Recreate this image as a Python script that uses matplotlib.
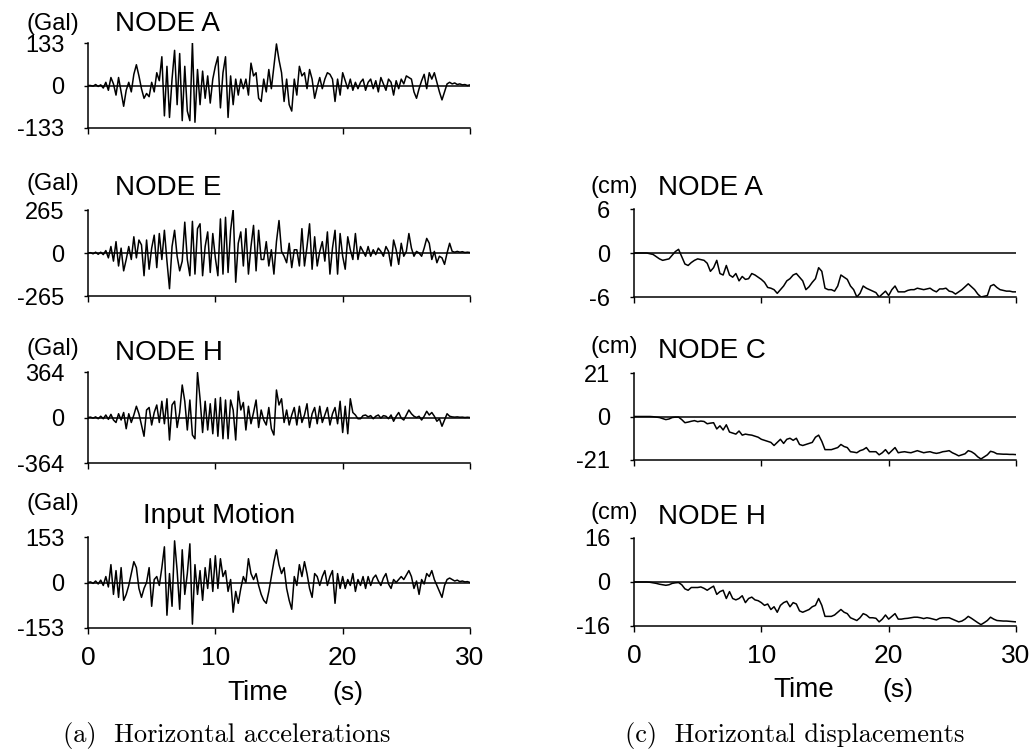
"""Seismic response time histories: horizontal accelerations and displacements."""

import matplotlib
matplotlib.use("Agg")
import matplotlib.pyplot as plt
import numpy as np

# ---- data ----
# accelerations (Gal), sampled every 0.2 s from 0 to 30 s
acc_node_a = [0, 0, -2, 3, -3, 2,
              -8, 10, -15, 25, 5, -30, 25, -20, -65, -15,
              10, -20, 35, 65, 30, -10, -40, -25, -35, 10,
              -20, 40, 15, 90, -95, 60, -100, 20, 110, -60,
              100, -110, 60, -80, -110, 135, -115, 50, -60, 45,
              -40, 30, -55, 20, 60, 90, -70, 40, 90, -100,
              30, -60, 20, -30, 20, -10, 20, -30, 70, 30,
              40, -40, -50, 20, -20, 50, -10, 60, 130, 80,
              40, -50, 20, -60, -80, 20, -30, 60, 30, 40,
              -10, 50, 20, -40, -5, 25, -10, 20, 40, 35,
              20, -50, 20, -30, 40, 15, -10, 20, -15, 10,
              -10, 10, 20, -15, 10, 20, -10, 15, -20, 25,
              5, -15, 20, 10, -30, 15, -10, 20, 5, 30,
              25, 20, -20, -40, -10, 15, 35, -10, 40, 20,
              40, 10, -20, -45, -20, 5, 10, 5, 8, 3,
              5, 2, 3, 0, 2]

acc_node_e = [0, 2, -5, 5, -8, 5,
              -10, 15, -30, 40, -50, 70, -80, 30, -110, -40,
              40, -40, 100, -30, 80, 50, -140, 80, -100, 30,
              110, -90, 120, -40, 140, -50, -220, 40, 140, -20,
              -110, -50, 190, -40, -140, 195, -130, 150, 180, -140,
              40, 130, -120, 120, -30, -140, 210, -130, 220, -120,
              140, 270, -180, 60, 130, -80, 150, -130, 40, 170,
              -110, 140, -40, -40, 70, -80, 20, -130, 70, 200,
              10, -20, -60, 60, -90, 20, 20, -80, 150, -80,
              40, 180, -100, 100, -80, 10, 70, -50, 130, -130,
              30, 140, -130, 120, -20, -100, 100, 20, -40, 120,
              -40, 40, 10, -20, 40, -20, 20, -10, 30, 10,
              -20, 40, 10, -80, 80, 20, -70, 60, -20, 10,
              120, 30, -20, 10, 0, -20, 30, 90, 60, -40,
              10, -60, -20, -30, -70, 0, 60, 10, 5, 10,
              5, 8, 3, 5, 3]

acc_node_h = [0, 3, -5, 5, -10, 10,
              -10, 20, -15, 25, -20, -40, 30, -20, 40, -90,
              30, -40, 20, 90, 30, -60, -150, 60, 80, -60,
              40, 100, -40, 130, -50, 150, -180, 100, 130, -80,
              40, 260, 130, -100, 140, -140, -170, 360, 150, -120,
              130, -100, 110, -130, 150, -150, 160, -170, 140, -170,
              140, 60, -180, 210, 60, 120, -100, 90, -50, 40,
              140, -80, 60, -20, -60, 80, -90, -140, 220, 100,
              150, -40, 60, -60, 20, 80, -60, 90, -40, 20,
              110, -80, 30, 80, -50, 90, -40, 20, 80, -60,
              30, 80, -50, 130, -120, 90, -130, 150, 40, 20,
              -10, -10, 15, 20, 5, 15, -10, 10, 20, -5,
              15, 10, -10, 20, -30, 10, 40, -5, -20, 20,
              60, 30, 10, 0, 10, -20, 10, 50, 20, 40,
              10, -30, -10, -70, -20, 30, 10, 5, 3, 5,
              2, 3, 0, 2, 0]

acc_input = [0, 2, -3, 5, -5, 8,
             -10, 20, -15, 60, -40, 40, -50, 50, -60, -40,
             -10, 30, 70, 50, -20, -50, -20, 0, 50, -80,
             10, 20, -10, 50, 120, -110, 30, -80, 140, 40,
             -90, 110, -40, 30, 130, -140, 60, -40, 40, -60,
             50, -20, 80, -30, 90, -20, 80, 20, 40, -30,
             10, -100, -30, -70, -20, 20, 0, 80, 30, 10,
             30, -10, -40, -60, -70, -30, 20, 70, 110, 60,
             30, 50, -20, -60, -90, 20, -10, 60, 20, 70,
             30, -20, -50, 30, 20, -10, 20, 40, -10, 20,
             40, -70, 30, -20, 20, -20, 10, -10, 30, -30,
             10, -10, 20, -20, 20, -10, 15, 25, 5, -10,
             15, 30, -5, -20, 10, 0, 10, 20, 10, 25,
             40, 20, -20, 5, -40, 10, -5, 30, 20, 40,
             10, -10, -30, -50, -10, 10, 15, 10, 5, 8,
             3, 5, 2, 3, 0]

# displacements (cm), sampled every 0.25 s from 0 to 30 s
disp_node_a = [0, 0, 0, 0, 0, -0.1, -0.2, -0.5, -0.8, -1.0, -0.9, -0.8,
               -0.3, 0.2, 0.5, -0.5, -1.5, -1.7, -1.3, -1.0, -0.8, -0.9, -1.0, -1.4,
               -2.5, -2.0, -1.0, -2.8, -3.0, -1.7, -3.0, -3.3, -2.8, -3.8, -3.2, -3.6,
               -3.5, -2.8, -3.0, -3.3, -3.6, -4.0, -4.7, -4.8, -5.0, -5.5, -5.0, -4.5,
               -3.8, -3.5, -3.0, -2.8, -3.3, -3.8, -5.0, -4.6, -4.0, -3.5, -2.0, -2.5,
               -4.8, -5.0, -5.0, -5.2, -4.5, -3.0, -3.3, -3.6, -4.5, -5.0, -6.0, -5.5,
               -4.5, -4.8, -5.0, -5.2, -5.4, -6.0, -5.6, -5.2, -5.8, -5.0, -4.5, -5.3,
               -5.3, -5.3, -5.1, -5.0, -5.0, -4.8, -4.9, -5.0, -4.9, -4.8, -5.1, -5.3,
               -4.9, -4.9, -4.8, -5.2, -5.3, -5.6, -5.3, -5.0, -4.6, -4.2, -4.6, -5.0,
               -5.6, -6.0, -5.9, -5.8, -4.5, -4.3, -4.7, -5.0, -5.1, -5.2, -5.2, -5.3,
               -5.3]

disp_node_c = [0, 0, 0, 0, 0, 0, -0.1, -0.3, -0.5, -1.0, -1.5, -1.2,
               -0.5, -0.3, -0.3, -1.5, -3.0, -2.7, -2.3, -2.0, -2.5, -2.2, -2.4, -3.5,
               -3.2, -3.0, -6.0, -4.5, -6.5, -4.0, -7.5, -8.0, -8.5, -7.0, -9.0, -8.5,
               -8.8, -9.0, -9.5, -10.0, -11.0, -11.5, -12.0, -12.5, -14.0, -12.5, -11.0, -13.0,
               -11.0, -10.5, -11.5, -10.5, -13.5, -14.0, -13.5, -13.0, -12.5, -10.0, -9.0, -12.0,
               -16.0, -16.0, -16.0, -15.5, -15.0, -13.5, -14.5, -15.0, -17.0, -17.2, -17.5, -16.5,
               -16.0, -15.0, -17.0, -17.0, -17.0, -18.5, -17.5, -16.0, -18.0, -16.5, -15.0, -17.5,
               -17.2, -17.0, -17.3, -17.5, -17.0, -16.5, -17.0, -17.5, -17.2, -17.0, -17.5, -17.8,
               -17.5, -17.0, -16.8, -16.5, -17.5, -18.2, -19.0, -18.5, -18.0, -16.5, -17.0, -18.0,
               -19.5, -20.5, -19.5, -18.5, -16.8, -17.2, -18.0, -18.1, -18.2, -18.2, -18.3, -18.3,
               -18.4]

disp_node_h = [0, 0, 0, 0, 0, -0.1, -0.3, -0.5, -0.8, -1.0, -1.2, -1.0,
               -0.5, -0.3, -0.2, -1.0, -2.5, -3.0, -2.0, -2.0, -2.0, -1.8, -2.3, -3.0,
               -2.2, -1.5, -4.5, -3.5, -3.0, -6.0, -3.5, -6.0, -6.5, -6.0, -5.0, -7.5,
               -6.0, -5.5, -6.5, -6.8, -7.5, -8.5, -8.0, -10.0, -9.0, -11.0, -8.5, -7.5,
               -7.0, -9.0, -7.5, -8.0, -10.5, -11.0, -10.5, -10.0, -9.0, -8.5, -6.0, -8.5,
               -12.5, -12.5, -12.5, -12.0, -11.0, -10.0, -11.0, -11.5, -13.0, -13.5, -14.0, -13.0,
               -11.5, -12.0, -13.0, -13.0, -13.2, -14.5, -13.5, -12.0, -13.5, -12.5, -11.5, -13.5,
               -13.5, -13.3, -13.2, -13.0, -12.8, -12.8, -13.0, -13.3, -13.0, -13.2, -13.5, -13.8,
               -13.2, -13.0, -13.0, -13.0, -13.5, -14.0, -14.5, -14.2, -13.5, -12.5, -13.2, -14.0,
               -14.8, -15.5, -14.8, -14.0, -12.8, -13.5, -14.0, -14.1, -14.2, -14.2, -14.3, -14.4,
               -14.5]

acc_panels = [("NODE A", acc_node_a, 133), ("NODE E", acc_node_e, 265),
              ("NODE H", acc_node_h, 364), ("Input Motion", acc_input, 153)]
disp_panels = [("NODE A", disp_node_a, 6), ("NODE C", disp_node_c, 21),
               ("NODE H", disp_node_h, 16)]

# ---- layout (pixel boxes measured on the 1030x755 original) ----
W, H = 1030, 755
SANS = "Liberation Sans"
SERIF = "cmr10"

acc_boxes = [(43, 128), (210, 296), (372, 463), (537, 628)]
acc_title = [(30, 31), (190, 195), (355, 360), (510, 523)]   # unit baseline, title baseline
disp_boxes = [(209, 297), (373, 460), (538, 626)]
disp_title = [(193, 195), (353, 358), (519, 524)]

fig = plt.figure(figsize=(W / 100, H / 100), dpi=100)


def make_axes(x0, x1, y0, y1):
    return fig.add_axes([x0 / W, 1 - y1 / H, (x1 - x0) / W, (y1 - y0) / H])


def ftext(x, y, s, **kw):
    fig.text(x / W, 1 - y / H, s, **kw)


def draw_trace(ax, values, lim, last):
    t = np.linspace(0, 30, len(values))
    ax.axhline(0, color="black", lw=1.1, zorder=1)
    ax.plot(t, values, color="black", lw=1.1, zorder=2)
    ax.set_xlim(0, 30)
    ax.set_ylim(-lim, lim)
    for side in ("top", "right"):
        ax.spines[side].set_visible(False)
    for side in ("left", "bottom"):
        ax.spines[side].set_linewidth(1.1)
    ax.set_yticks([-lim, 0, lim])
    ax.set_yticklabels([f"-{lim}", "0", f"{lim}"], fontfamily=SANS, fontsize=17)
    ax.set_xticks([0, 10, 20, 30])
    ax.tick_params(axis="y", direction="out", length=3, width=1, pad=14)
    ax.tick_params(axis="x", direction="out", length=4, width=1, pad=9)
    if last:
        ax.set_xticklabels(["0", "10", "20", "30"], fontfamily=SANS, fontsize=19)
    else:
        ax.set_xticklabels([])
    ax.patch.set_alpha(0)


# (a) accelerations
for i, (name, vals, lim) in enumerate(acc_panels):
    y0, y1 = acc_boxes[i]
    ax = make_axes(88, 470, y0, y1)
    draw_trace(ax, vals, lim, i == len(acc_panels) - 1)
    ub, tb = acc_title[i]
    ftext(53, ub, "(Gal)", ha="center", va="baseline", fontfamily=SANS, fontsize=17)
    tx = 143 if name == "Input Motion" else 115
    ftext(tx, tb, name, ha="left", va="baseline", fontfamily=SANS, fontsize=20)

# (c) displacements
for i, (name, vals, lim) in enumerate(disp_panels):
    y0, y1 = disp_boxes[i]
    ax = make_axes(634, 1016, y0, y1)
    draw_trace(ax, vals, lim, i == len(disp_panels) - 1)
    ub, tb = disp_title[i]
    ftext(614, ub, "(cm)", ha="center", va="baseline", fontfamily=SANS, fontsize=17)
    ftext(658, tb, name, ha="left", va="baseline", fontfamily=SANS, fontsize=20)

# axis titles and captions
ftext(227, 700, "Time", ha="left", va="baseline", fontfamily=SANS, fontsize=20)
ftext(332, 700, "(s)", ha="left", va="baseline", fontfamily=SANS, fontsize=19)
ftext(773, 697, "Time", ha="left", va="baseline", fontfamily=SANS, fontsize=20)
ftext(882, 697, "(s)", ha="left", va="baseline", fontfamily=SANS, fontsize=19)

ftext(63, 742, "(a)  Horizontal accelerations", ha="left", va="baseline",
      fontfamily=SERIF, fontsize=19)
ftext(625, 742, "(c)  Horizontal displacements", ha="left", va="baseline",
      fontfamily=SERIF, fontsize=19)

fig.savefig("out.png", dpi=100)
